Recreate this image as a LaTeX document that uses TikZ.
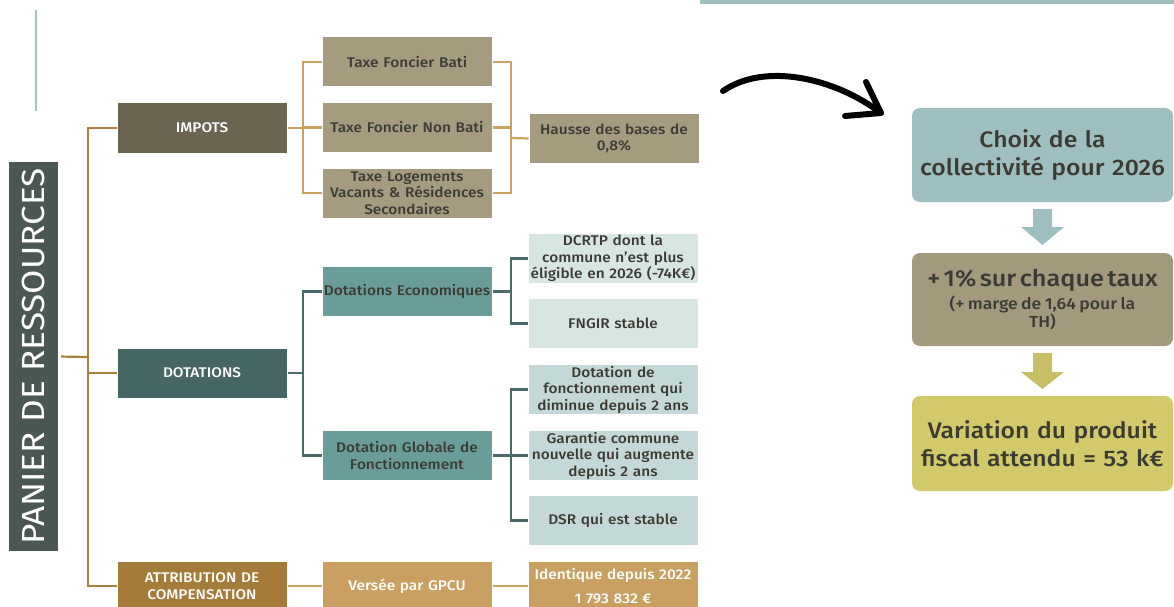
\documentclass[tikz,border=0pt]{standalone}
\usepackage{fontspec}
\setmainfont{Fira Sans}[FakeStretch=1.1, BoldFont={Fira Sans Medium}, BoldFeatures={FakeStretch=1.1}]
\usetikzlibrary{calc}
\definecolor{panierc}{HTML}{4B5751}
\definecolor{impotsc}{HTML}{6B6450}
\definecolor{taxec}{HTML}{A59B7F}
\definecolor{dotc}{HTML}{466664}
\definecolor{decoc}{HTML}{6A9D9A}
\definecolor{lightA}{HTML}{D7E5E3}
\definecolor{lightB}{HTML}{C4D9D7}
\definecolor{attribc}{HTML}{A57B3A}
\definecolor{versc}{HTML}{C9A062}
\definecolor{choixc}{HTML}{9DBFBF}
\definecolor{plusc}{HTML}{A39A7E}
\definecolor{varc}{HTML}{D2C96B}
\definecolor{lineGold}{HTML}{C9A262}
\definecolor{lineTeal}{HTML}{4A6A67}
\definecolor{lineMain}{HTML}{A8803F}
\definecolor{textdark}{HTML}{3B3A33}
\tikzset{
  box/.style={minimum width=170, minimum height=50, inner sep=1pt, align=center,
    text width=168, draw=white, line width=1,
    font=\bfseries\fontsize{14}{16.5}\selectfont, text=textdark},
  wbox/.style={box, text=white},
  bigbox/.style={minimum width=261, minimum height=94, rounded corners=8, align=center,
    text width=258, inner sep=1pt, text=textdark},
  gold/.style={draw=lineGold, line width=2.2},
  tealline/.style={draw=lineTeal, line width=2.2},
  mainline/.style={draw=lineMain, line width=2.2},
  curvearrow/.style={draw=black, line width=6, line cap=round, line join=round}
}
\begin{document}
\begin{tikzpicture}[x=1pt,y=-1pt]
\useasboundingbox (0,0) rectangle (1174,607);
\fill[white] (0,0) rectangle (1174,607);
% decorations
\fill[choixc] (700,-5) rectangle (1174,4);
\draw[draw=choixc!90!white, line width=2] (36,10) -- (36,111);

% left column
\node[fill=panierc, minimum width=389, minimum height=49, rotate=90, inner sep=0,
  text=white, font=\fontsize{32}{34}\selectfont] (panier) at (33.5,356.5) {PANIER DE RESSOURCES};
\node[wbox, fill=impotsc] (impots) at (202,128) {IMPOTS};
\node[wbox, fill=dotc] (dotations) at (202,373) {DOTATIONS};
\node[wbox, fill=attribc] (attrib) at (202,586) {ATTRIBUTION DE\\COMPENSATION};

% impots branch
\node[box, fill=taxec] (tfb) at (407,62) {Taxe Foncier Bati};
\node[box, fill=taxec] (tfnb) at (407,127.5) {Taxe Foncier Non Bati};
\node[box, fill=taxec] (tlv) at (407,193) {Taxe Logements\\Vacants \& Résidences\\Secondaires};
\node[box, fill=taxec] (hausse) at (614,138.5) {Hausse des bases de\\0,8\%};

% dotations branch
\node[box, fill=decoc] (deco) at (407,291.5) {Dotations Economiques};
\node[box, fill=decoc] (dgf) at (407,455.5) {Dotation Globale de\\Fonctionnement};
\node[box, fill=lightA] (dcrtp) at (613,258.5) {DCRTP dont la\\commune n’est plus\\éligible en 2026 (-74K€)};
\node[box, fill=lightA] (fngir) at (613,323.5) {FNGIR stable};
\node[box, fill=lightB] (dfonc) at (613,389.5) {Dotation de\\fonctionnement qui\\diminue depuis 2 ans};
\node[box, fill=lightB] (garantie) at (613,455.5) {Garantie commune\\nouvelle qui augmente\\depuis 2 ans};
\node[box, fill=lightB] (dsr) at (613,520.5) {DSR qui est stable};

% attribution branch
\node[wbox, fill=versc] (versee) at (407,586) {Versée par GPCU};
\node[wbox, fill=versc, font=\bfseries\fontsize{14}{24}\selectfont] (ident) at (613,586) {Identique depuis 2022\\1 793 832 €};

% junctions
\coordinate (m) at (88,357);
\coordinate (j1) at (303,128);
\coordinate (j2) at (511,138);
\coordinate (j3) at (303,373);
\coordinate (j4) at (511,291.5);
\coordinate (j5) at (511,455.5);

% main connectors
\draw[mainline, shorten <=3] (panier.south) -- (m);
\draw[mainline] (impots.west) -| (m) |- (attrib.west);
\draw[mainline] (dotations.west) -- (dotations.west -| m);

% impots connectors
\draw[gold] (impots.east) -- (j1);
\draw[gold] (tfb.west) -| (j1) |- (tlv.west);
\draw[gold] (tfnb.west) -- (tfnb.west -| j1);
\draw[gold] (tfb.east) -| (j2) |- (tlv.east);
\draw[gold] (tfnb.east) -- (tfnb.east -| j2);
\draw[gold] (j2) -- (hausse.west);

% dotations connectors
\draw[tealline] (dotations.east) -- (j3);
\draw[tealline] (deco.west) -| (j3) |- (dgf.west);
\draw[tealline] (deco.east) -- (j4);
\draw[tealline] (dcrtp.west) -| (j4) |- (fngir.west);
\draw[tealline] (dgf.east) -- (j5);
\draw[tealline] (dfonc.west) -| (j5) |- (dsr.west);
\draw[tealline] (garantie.west) -- (garantie.west -| j5);

% attribution connectors
\draw[gold] (attrib.east) -- (versee.west);
\draw[gold] (versee.east) -- (ident.west);

% right column
\node[bigbox, fill=choixc, font=\bfseries\fontsize{22.5}{28}\selectfont] (choix) at (1042.5,155) {Choix de la\\collectivité pour 2026};
\node[bigbox, fill=plusc, minimum height=93] (plus) at (1042.5,299.5)
  {{\bfseries\fontsize{23}{26}\selectfont + 1\% sur chaque taux}\\[4pt]{\bfseries\fontsize{16}{18}\selectfont (+ marge de 1,64 pour la\\TH)}};
\node[bigbox, fill=varc, minimum height=95, font=\bfseries\fontsize{22.5}{28}\selectfont] (variation) at (1042.5,443.5) {Variation du produit\\fiscal attendu = 53 k€};

% down arrows
\fill[choixc] (1033,209) -- (1052,209) -- (1052,227) -- (1064,227) -- (1042.5,245) -- (1021,227) -- (1033,227) -- cycle;
\fill[varc!95!black] (1033,353) -- (1052,353) -- (1052,372) -- (1064,372) -- (1042.5,389) -- (1021,372) -- (1033,372) -- cycle;

% curved arrow
\coordinate (a0) at (723,91);
\coordinate (a1) at (881,113);
\coordinate (h1) at (866,82);
\coordinate (h2) at (845,116);
\draw[curvearrow] (a0) .. controls (765,62) and (835,78) .. (a1);
\draw[curvearrow] (h1) -- (a1) -- (h2);
\end{tikzpicture}
\end{document}
